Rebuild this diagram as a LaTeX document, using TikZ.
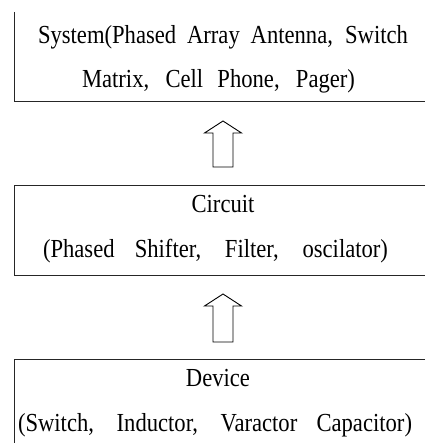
\documentclass[tikz,border=0pt]{standalone}
\usepackage{fontspec}
\setmainfont{Liberation Serif}[FakeStretch=0.87]
\usetikzlibrary{calc}
\tikzset{
  label text/.style={anchor=base, inner sep=0pt, font=\fontsize{26}{30}\selectfont},
  frame line/.style={draw=black!85, line width=0.9pt},
  hollow arrow/.style={draw=black, line width=0.9pt, fill=white, line join=miter},
}
\newcommand{\hollowarrow}[2]{%
  \draw[hollow arrow] ($(#2)+(-10,0)$) -- ($(#1)+(-10,12)$) -- ($(#1)+(-18.5,12)$)
    -- (#1) -- ($(#1)+(18.5,12)$) -- ($(#1)+(10,12)$) -- ($(#2)+(10,0)$) -- cycle;}
\begin{document}
\begin{tikzpicture}[x=1pt,y=-1pt]
\useasboundingbox (0,0) rectangle (425,443);
% frames
\coordinate (s1) at (14,12);
\coordinate (s2) at (14,101);
\coordinate (s3) at (425,101);
\coordinate (c1) at (425,185);
\coordinate (c2) at (14,185);
\coordinate (c3) at (14,275);
\coordinate (c4) at (425,275);
\coordinate (d1) at (425,359);
\coordinate (d2) at (14,359);
\coordinate (d3) at (14,443);
\draw[frame line] (s1) -- (s2) -- (s3);
\draw[frame line] (c1) -- (c2) -- (c3) -- (c4);
\draw[frame line] (d1) -- (d2) -- (d3);
% texts
\node[label text] (sysA) at (223,44) {\makebox[370pt][s]{System(Phased Array Antenna, Switch}};
\node[label text] (sysB) at (218.5,88) {\makebox[273pt][s]{Matrix, Cell Phone, Pager)}};
\node[label text] (cirA) at (223,212) {Circuit};
\node[label text] (cirB) at (215.5,257) {\makebox[345pt][s]{(Phased Shifter, Filter, oscilator)}};
\node[label text] (devA) at (218,386) {Device};
\node[label text] (devB) at (215,431) {\makebox[394pt][s]{(Switch, Inductor, Varactor Capacitor)}};
% arrows
\coordinate (a1t) at (223,121);
\coordinate (a1b) at (223,167);
\coordinate (a2t) at (223,294);
\coordinate (a2b) at (223,342);
\hollowarrow{a1t}{a1b}
\hollowarrow{a2t}{a2b}
\end{tikzpicture}
\end{document}
